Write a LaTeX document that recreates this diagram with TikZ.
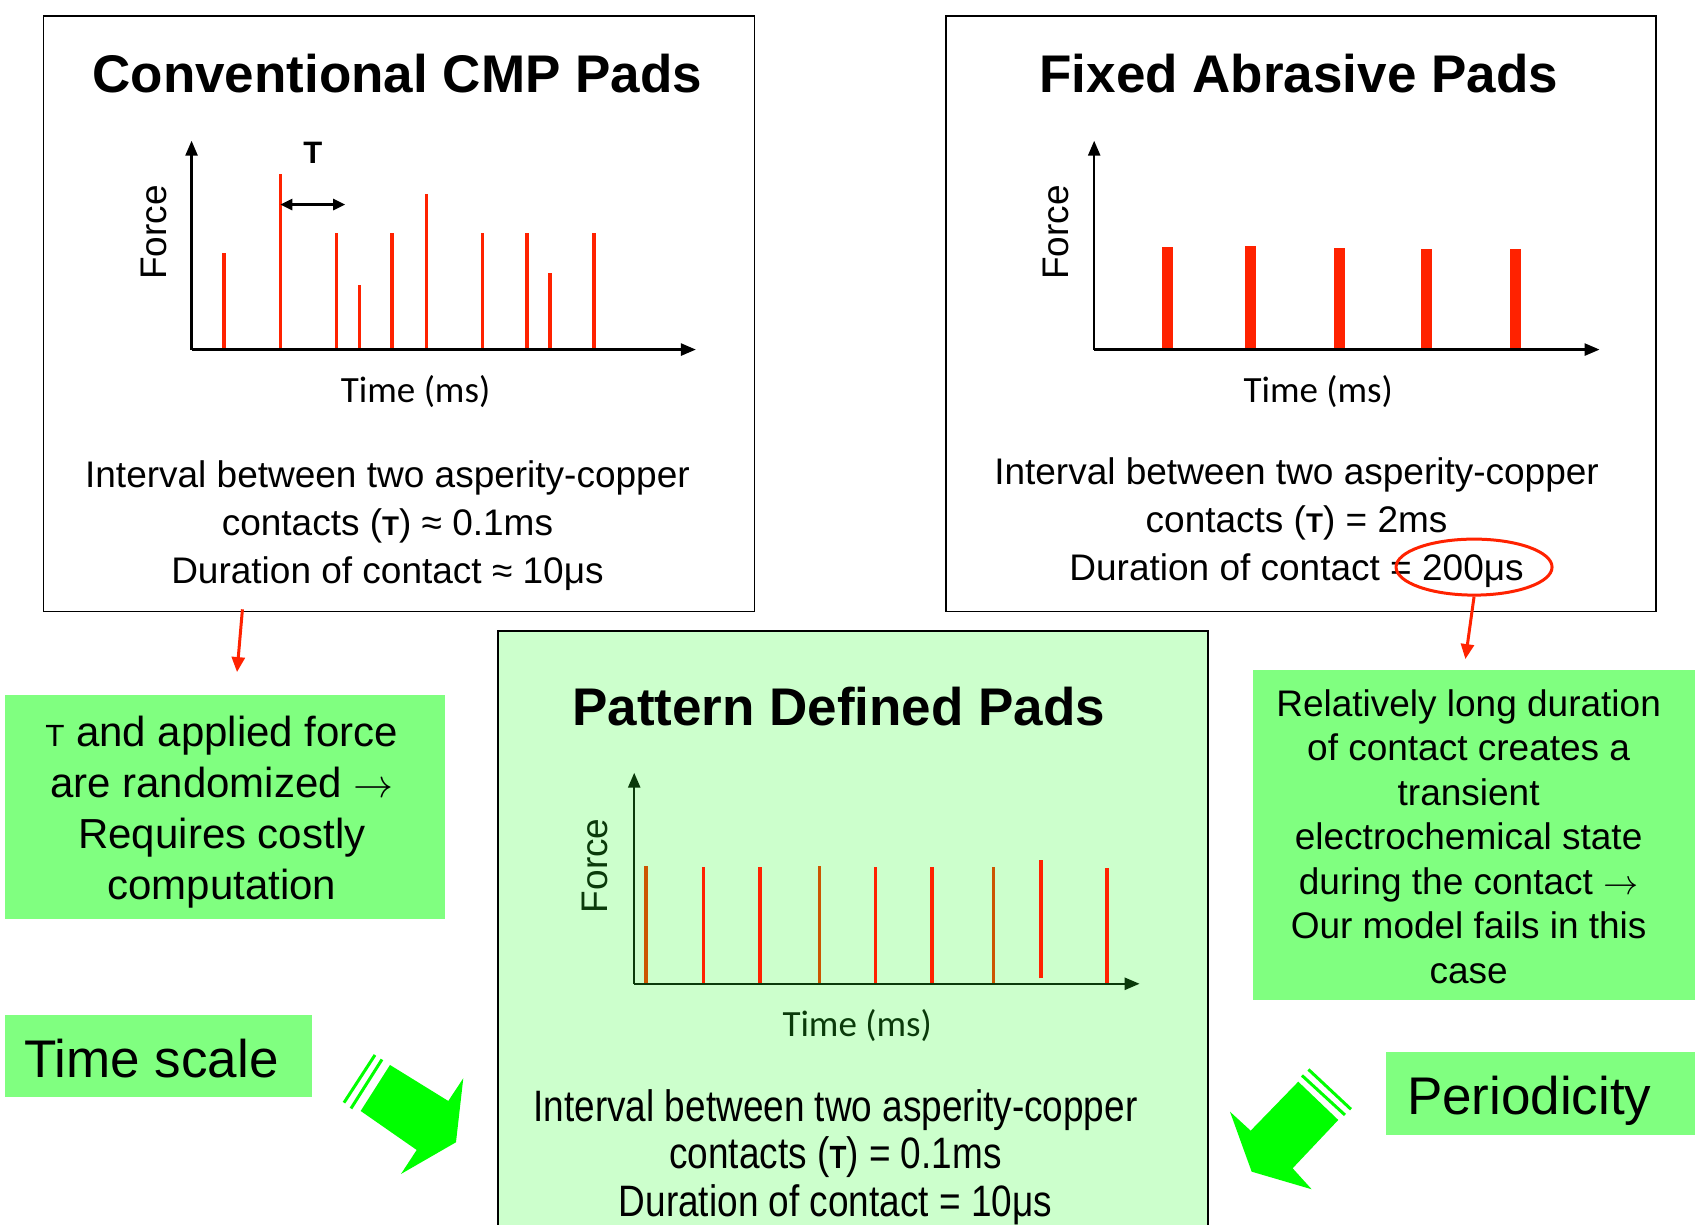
\documentclass[tikz,border=0pt]{standalone}
\usepackage{graphicx}
\usepackage{fontspec}
\setmainfont{Liberation Sans}
\newfontfamily\carl{Carlito}
\newfontfamily\narrowf[FakeStretch=0.84]{Liberation Sans}
\newcommand\smT{\scalebox{0.75}[0.73]{T}}
\newcommand\longarr{\resizebox{0.95em}{!}{$\rightarrow$}}
\usetikzlibrary{arrows.meta,fit,shapes.geometric}
\definecolor{redc}{HTML}{FF2200}
\definecolor{orc}{HTML}{CC5500}
\definecolor{brightg}{HTML}{80FF80}
\definecolor{paleg}{HTML}{CCFFCC}
\definecolor{arrowg}{HTML}{00FF00}
\definecolor{darkg}{HTML}{0A3A0A}
\begin{document}
\begin{tikzpicture}[x=1.0823pt,y=-1.0823pt,
  axis/.style={line width=2.5pt,-{Triangle[length=15pt,width=12pt]}},
  spike/.style={line width=3.5pt},
  fatspike/.style={redc,line width=11pt},
  panel/.style={draw,line width=1.5pt,inner sep=0pt},
  gpanel/.style={fill=brightg,inner sep=0pt},
  title/.style={font=\fontsize{53}{60}\selectfont\bfseries,inner sep=0pt},
  body/.style={align=center,font=\fontsize{37}{48}\selectfont,inner sep=0pt},
  forcelbl/.style={rotate=90,font=\fontsize{37}{44}\selectfont,inner sep=0pt},
  timelbl/.style={font=\fontsize{37}{44}\selectfont\carl,inner sep=0pt},
  redarrow/.style={redc,line width=3pt,-{Triangle[length=15pt,width=13pt]}},
  big/.style={font=\fontsize{53}{60}\selectfont,inner sep=0pt}]
\useasboundingbox (0,0) rectangle (1568,1131);
\clip (0,0) rectangle (1568,1131);
\fill[white] (0,0) rectangle (1568,1131);

% ---------- panels ----------
\node[panel,fit={(40,15) (697,565)}] (box1) {};
\node[panel,fit={(874,15) (1530,565)}] (box2) {};
\node[panel,fill=paleg,fit={(460,583) (1116,1145)}] (box3) {};
\node[gpanel,fit={(5,642) (411,849)}] (gl) {};
\node[gpanel,fit={(1158,619) (1566,924)}] (gr) {};
\node[gpanel,fit={(5,938) (288,1014)}] (ts) {};
\node[gpanel,fit={(1281,972) (1566,1049)}] (per) {};

% ---------- titles ----------
\node[title] (t1) at (367,68) {Conventional CMP Pads};
\node[title] (t2) at (1200,68) {Fixed Abrasive Pads};
\node[title] (t3) at (775,653) {Pattern Defined Pads};

% ---------- plot 1 ----------
\coordinate (o1) at (177,323);
\coordinate (y1) at (177,130);
\coordinate (x1) at (643,323);
\foreach \x/\t in {207/234,259/161,311/215,332/263,362/215,394/179,446/215,487/215,508/252,549/215}
  \draw[spike,redc] (\x,323) -- (\x,\t);
\draw[axis] (o1) -- (y1);
\draw[axis] (o1) -- (x1);
\coordinate (ta) at (259,189);
\coordinate (tb) at (319,189);
\draw[line width=2.5pt,{Triangle[length=12pt,width=11pt]}-{Triangle[length=12pt,width=11pt]}] (ta) -- (tb);
\node[font=\fontsize{31}{36}\selectfont\bfseries,inner sep=0pt] (tau) at (289,141) {T};
\node[forcelbl] (f1) at (142,215) {Force};
\node[timelbl] (tm1) at (384,362) {Time (ms)};
\node[body] (b1) at (358,486) {Interval between two asperity-copper\\contacts (\textbf{\smT}) ≈ 0.1ms\\Duration of contact ≈ 10μs};

% ---------- plot 2 ----------
\coordinate (o2) at (1011,323);
\coordinate (y2) at (1011,130);
\coordinate (x2) at (1478,323);
\foreach \x/\t in {1079/228,1155/227,1238/229,1318/230,1400/230}
  \draw[fatspike] (\x,324) -- (\x,\t);
\draw[axis] (o2) -- (y2);
\draw[axis] (o2) -- (x2);
\node[forcelbl] (f2) at (976,215) {Force};
\node[timelbl] (tm2) at (1218,362) {Time (ms)};
\node[body] (b2) at (1198,483) {Interval between two asperity-copper\\contacts (\textbf{\smT}) = 2ms\\Duration of contact = 200μs};
\node[ellipse,draw=redc,line width=3pt,minimum width=156pt,minimum height=56pt,inner sep=0pt] (ell) at (1362,524) {};

% ---------- plot 3 ----------
\coordinate (o3) at (586,909);
\coordinate (y3) at (586,714);
\coordinate (x3) at (1053,909);
\foreach \x/\t/\b/\c in {597/800/909/orc,650/801/909/redc,702/801/909/redc,757/800/909/orc,809/801/909/redc,861/801/909/redc,918/801/909/orc,962/795/904/redc,1023/802/909/redc}
  \draw[spike,\c] (\x,\b) -- (\x,\t);
\draw[axis,darkg] (o3) -- (y3);
\draw[axis,darkg] (o3) -- (x3);
\node[forcelbl,text=darkg] (f3) at (550,800) {Force};
\node[timelbl,text=darkg] (tm3) at (792,948) {Time (ms)};
\node[body,font=\fontsize{44}{47.6}\selectfont\narrowf] (b3) at (772,1069) {Interval between two asperity-copper\\contacts (\textbf{\smT}) = 0.1ms\\Duration of contact = 10μs};

% ---------- green notes ----------
\node[body,font=\fontsize{42}{51}\selectfont] (gltxt) at (205,750) {\smT{} and applied force\\are randomized \longarr\\Requires costly\\computation};
\node[body,font=\fontsize{37}{44.5}\selectfont] (grtxt) at (1357,773) {Relatively long duration\\of contact creates a\\transient\\electrochemical state\\during the contact \longarr\\Our model fails in this\\case};
\node[big] (tstxt) at (140,978) {Time scale};
\node[big] (pertxt) at (1413,1017) {Periodicity};

% ---------- red arrows ----------
\coordinate (r1s) at (224,563);
\coordinate (r1e) at (219,621);
\draw[redarrow] (r1s) -- (r1e);
\coordinate (r2e) at (1354,609);
\draw[redarrow] (ell.south) -- (r2e);

% ---------- green block arrows ----------
\begin{scope}[x=1pt,y=-1pt]
\fill[arrowg] (390,1065) -- (360.7,1111) -- (416.7,1150) -- (401,1174) -- (456,1142.3) -- (463.3,1078.3) -- (448.3,1101) -- cycle;
\draw[arrowg,line width=3pt] (382,1059.5) -- (351,1108.5);
\draw[arrowg,line width=3pt] (375,1055) -- (344,1102.7);
\fill[arrowg] (1298.3,1081.7) -- (1250.7,1130.7) -- (1230,1111.7) -- (1251.7,1171.7) -- (1311.7,1189.3) -- (1292.7,1168.3) -- (1338.3,1120) -- cycle;
\draw[arrowg,line width=3pt] (1302,1075.5) -- (1345,1115);
\draw[arrowg,line width=3pt] (1308.5,1069.5) -- (1351,1109.3);
\end{scope}
\end{tikzpicture}
\end{document}
